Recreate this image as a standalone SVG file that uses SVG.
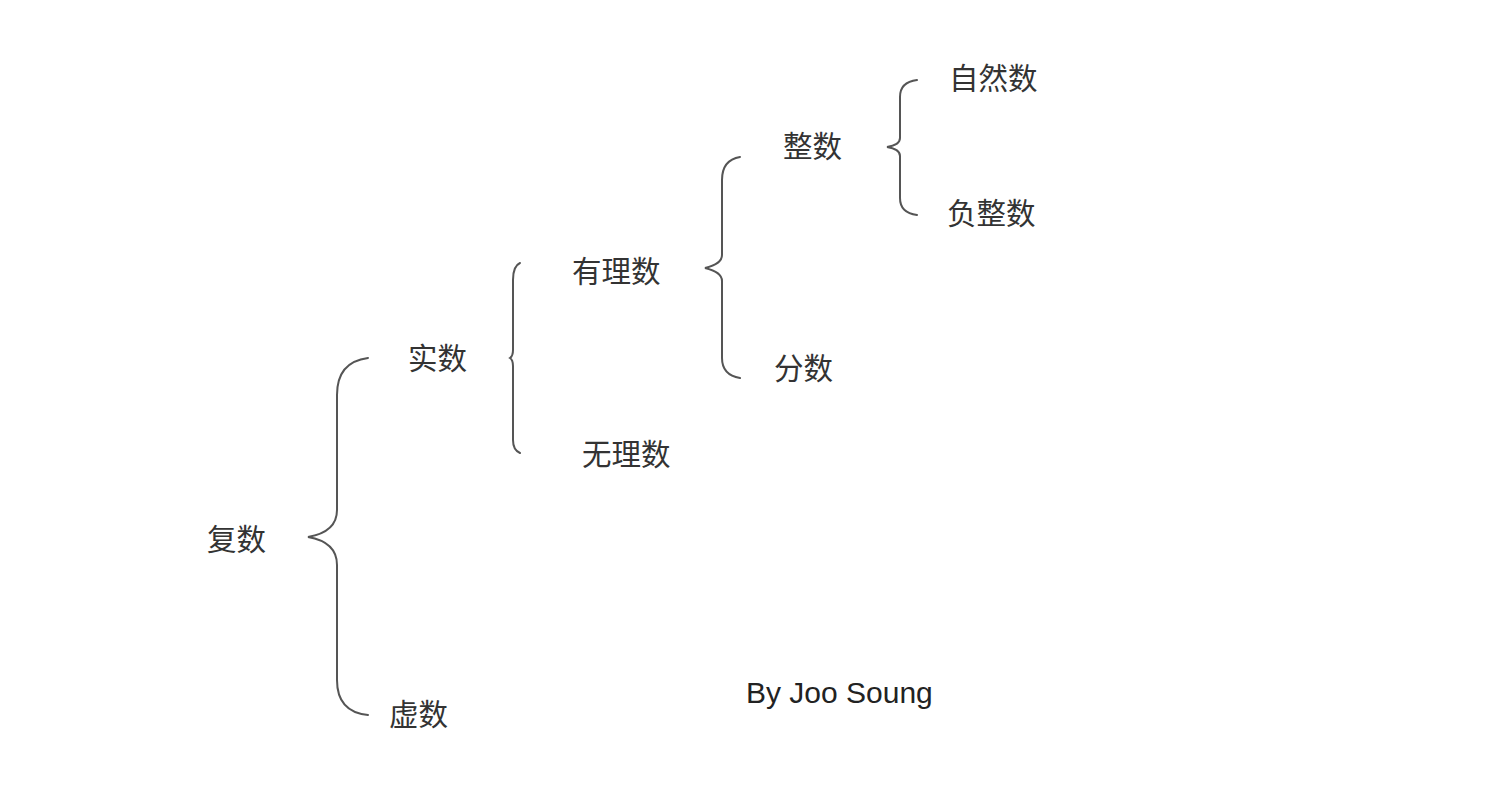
<svg xmlns="http://www.w3.org/2000/svg" width="1500" height="800" viewBox="0 0 1500 800">
<style>
.t{font-family:"Noto Sans CJK SC","Liberation Sans",sans-serif;font-size:29.5px;fill:#333;}
.e{font-family:"Liberation Sans",Arial,sans-serif;font-size:30px;fill:#222;}
.b{fill:none;stroke:#555;stroke-width:2;stroke-linecap:round;}
</style>
<rect width="1500" height="800" fill="#fff"/>
<g id="connectors">
<path class="b" d="M368,358 Q337,362 337,395 L337,510 Q337,532 308,537 Q337,542 337,565 L337,680 Q337,712 368,715"/>
<path class="b" d="M520,263 Q513,266 513,280 L513,350 Q513,356 510,358 Q513,360 513,366 L513,440 Q513,450 520,453"/>
<path class="b" d="M740,157 Q722,160 722,180 L722,255 Q722,264 705,268 Q722,272 722,281 L722,358 Q722,375 740,378"/>
<path class="b" d="M917,80 Q900,82 900,97 L900,138 Q900,145 887,147 Q900,149 900,156 L900,198 Q900,213 917,215"/>
</g>
<g id="n-fushu"><text class="t" x="207" y="550">复数</text></g>
<g id="n-shishu"><text class="t" x="408" y="369">实数</text></g>
<g id="n-xushu"><text class="t" x="389" y="725">虚数</text></g>
<g id="n-youlishu"><text class="t" x="572" y="282">有理数</text></g>
<g id="n-wulishu"><text class="t" x="582" y="465">无理数</text></g>
<g id="n-zhengshu"><text class="t" x="783" y="157">整数</text></g>
<g id="n-fenshu"><text class="t" x="774" y="379">分数</text></g>
<g id="n-ziranshu"><text class="t" x="949" y="89">自然数</text></g>
<g id="n-fuzhengshu"><text class="t" x="947" y="224">负整数</text></g>
<g id="credit"><text class="e" x="746" y="703">By Joo Soung</text></g>
</svg>
